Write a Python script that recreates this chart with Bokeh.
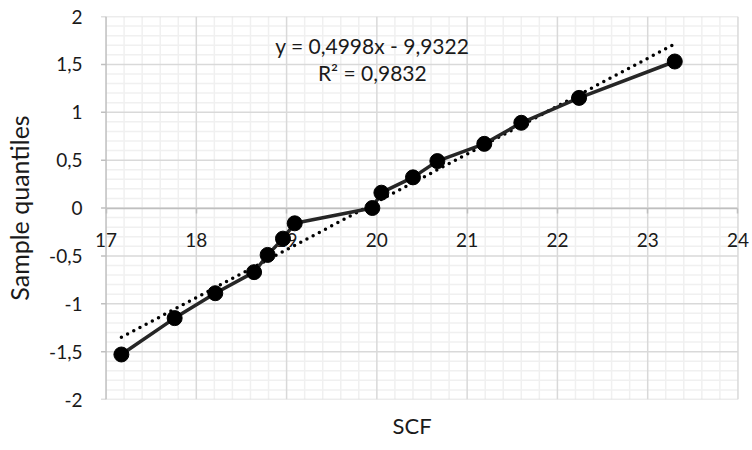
import numpy as np
from bokeh.plotting import figure
from bokeh.models import FixedTicker, Range1d, Label, Title
from bokeh.embed import file_html
from bokeh.resources import INLINE

# ---- data ----
scf = [17.17, 17.76, 18.21, 18.64, 18.79, 18.96, 19.09, 19.95, 20.05, 20.40,
       20.67, 21.19, 21.60, 22.24, 23.30]
quantiles = [-1.53, -1.15, -0.89, -0.67, -0.49, -0.32, -0.16, 0.0, 0.16, 0.32,
             0.49, 0.67, 0.89, 1.15, 1.53]
trend_slope = 0.4998
trend_intercept = -9.9322
equation_text = "y = 0,4998x - 9,9322"
r2_text = "R\u00b2 = 0,9832"
x_ticks = [17, 18, 19, 20, 21, 22, 23, 24]
x_tick_labels = ["17", "18", "19", "20", "21", "22", "23", "24"]
y_ticks = [-2, -1.5, -1, -0.5, 0, 0.5, 1, 1.5, 2]
y_tick_labels = ["-2", "-1,5", "-1", "-0,5", "0", "0,5", "1", "1,5", "2"]
x_title = "SCF"
y_title = "Sample quantiles"

FONT = "Lato"
GRID_MAJOR = "#d9d9d9"
GRID_MINOR = "#f0f0f0"
AXIS_COL = "#bfbfbf"
TEXT_COL = "#1a1a1a"

XMIN, XMAX = x_ticks[0], x_ticks[-1]
YMIN, YMAX = y_ticks[0], y_ticks[-1]
PAD_L, PAD_R = 0.15, 0.15          # room so that end tick labels are not clipped
W, H = 752, 450
BL, BR, BT, BB = 92, 1, 16, 51
px_per_x = (W - BL - BR) / (XMAX - XMIN + PAD_L + PAD_R)

p = figure(width=W, height=H, output_backend="svg", toolbar_location=None,
           x_range=Range1d(XMIN - PAD_L, XMAX + PAD_R), y_range=Range1d(YMIN, YMAX),
           min_border_left=BL, min_border_right=BR, min_border_top=BT,
           min_border_bottom=BB)
p.outline_line_color = None
p.xgrid.visible = False
p.ygrid.visible = False

# ---- grid drawn within the 17..24 x -2..2 box ----
minor_x = [v for v in np.round(np.arange(XMIN, XMAX + 1e-9, 0.2), 6) if v not in x_ticks]
minor_y = [v for v in np.round(np.arange(YMIN, YMAX + 1e-9, 0.1), 6) if v not in y_ticks]
p.segment(x0=minor_x, y0=[YMIN] * len(minor_x), x1=minor_x, y1=[YMAX] * len(minor_x),
          line_color=GRID_MINOR, line_width=1.5, level="underlay")
p.segment(x0=[XMIN] * len(minor_y), y0=minor_y, x1=[XMAX] * len(minor_y), y1=minor_y,
          line_color=GRID_MINOR, line_width=1.5, level="underlay")
p.segment(x0=x_ticks[1:], y0=[YMIN] * (len(x_ticks) - 1), x1=x_ticks[1:],
          y1=[YMAX] * (len(x_ticks) - 1), line_color=GRID_MAJOR, line_width=1.5,
          level="underlay")
p.segment(x0=[XMIN] * len(y_ticks), y0=y_ticks, x1=[XMAX] * len(y_ticks), y1=y_ticks,
          line_color=GRID_MAJOR, line_width=1.5, level="underlay")
# vertical axis line at x = 17 with outside tick marks
tick_len = 5 / px_per_x
p.segment(x0=[XMIN], y0=[YMIN], x1=[XMIN], y1=[YMAX], line_color=AXIS_COL,
          line_width=1.5, level="underlay")
p.segment(x0=[XMIN - tick_len] * len(y_ticks), y0=y_ticks, x1=[XMIN] * len(y_ticks),
          y1=y_ticks, line_color=AXIS_COL, line_width=1.5, level="underlay")

# ---- x axis crossing at y = 0 ----
xa = p.xaxis[0]
xa.ticker = FixedTicker(ticks=x_ticks)
xa.major_label_overrides = {t: l for t, l in zip(x_ticks, x_tick_labels)}
xa.fixed_location = 0
xa.bounds = (XMIN, XMAX)
xa.axis_line_color = AXIS_COL
xa.axis_line_width = 1.5
xa.major_tick_line_color = AXIS_COL
xa.major_tick_line_width = 1.5
xa.major_tick_in = 0
xa.major_tick_out = 5
xa.minor_tick_line_color = None
xa.major_label_standoff = 20
xa.major_label_text_font = FONT
xa.major_label_text_font_size = "19px"
xa.major_label_text_color = TEXT_COL
xa.level = "underlay"

# ---- y axis (labels only; line and ticks drawn above) ----
ya = p.yaxis[0]
ya.ticker = FixedTicker(ticks=y_ticks)
ya.major_label_overrides = {t: l for t, l in zip(y_ticks, y_tick_labels)}
ya.axis_line_color = None
ya.major_tick_line_color = None
ya.major_tick_in = 0
ya.major_tick_out = 0
ya.minor_tick_line_color = None
ya.major_label_standoff = 10
ya.major_label_text_font = FONT
ya.major_label_text_font_size = "19px"
ya.major_label_text_color = TEXT_COL
ya.axis_label = y_title
ya.axis_label_text_font = FONT
ya.axis_label_text_font_size = "25px"
ya.axis_label_text_font_style = "normal"
ya.axis_label_text_color = TEXT_COL
ya.axis_label_standoff = 12

# ---- trendline (linear fit from the equation shown) ----
tx = [min(scf), max(scf)]
ty = [trend_slope * v + trend_intercept for v in tx]
p.line(tx, ty, line_color="black", line_width=3.5, line_dash="0 7", line_cap="round")

# ---- series ----
p.line(scf, quantiles, line_color="#262626", line_width=3.5)
p.scatter(scf, quantiles, size=15, fill_color="black", line_color="black")

# ---- equation labels ----
p.add_layout(Label(x=19.95, y=1.70, text=equation_text, text_align="center",
                   text_baseline="middle", text_font=FONT, text_font_size="21px",
                   text_color=TEXT_COL))
p.add_layout(Label(x=19.95, y=1.42, text=r2_text, text_align="center",
                   text_baseline="middle", text_font=FONT, text_font_size="21px",
                   text_color=TEXT_COL))

# ---- x axis title ----
p.add_layout(Title(text=x_title, align="left", offset=300, standoff=20,
                   text_font=FONT, text_font_size="22px", text_font_style="normal",
                   text_color=TEXT_COL), "below")

open("out.html", "w").write(file_html(p, INLINE))
